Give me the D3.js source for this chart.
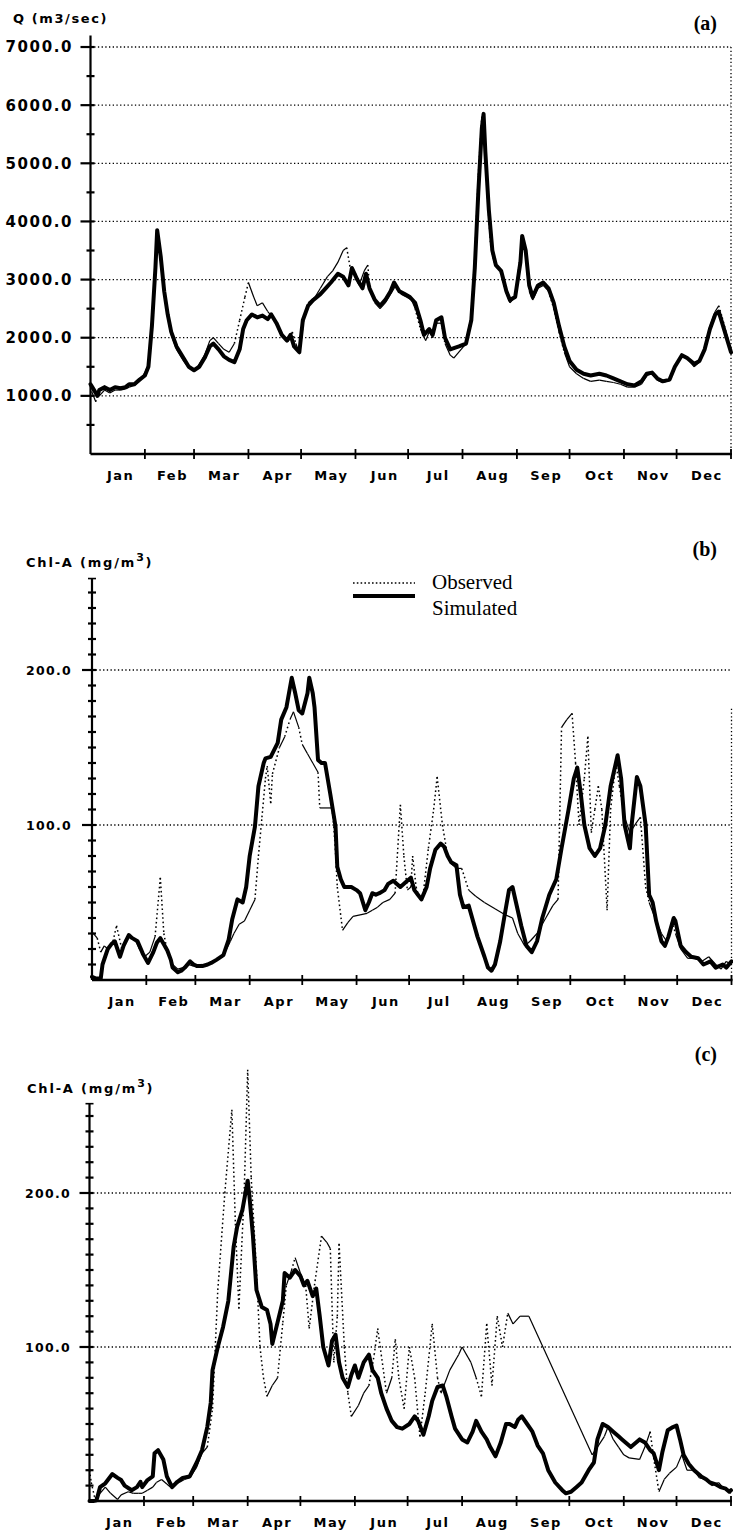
<!DOCTYPE html>
<html>
<head>
<meta charset="utf-8">
<script src="https://cdn.jsdelivr.net/npm/d3@7"></script>
<style>
  body { margin: 0; background: #fff; }
  svg { display: block; }
</style>
</head>
<body>
<svg id="fig" width="733" height="1533"></svg>
<script>
// ---- data -------------------------------------------------------------
const monthNames = ["Jan","Feb","Mar","Apr","May","Jun","Jul","Aug","Sep","Oct","Nov","Dec"];
const monthStartDays = [0,31,59,90,120,151,181,212,243,273,304,334,365];

const flowTicks = [1000,2000,3000,4000,5000,6000,7000];
const flowTickLabels = ["1000.0","2000.0","3000.0","4000.0","5000.0","6000.0","7000.0"];
const flowMinorTicks = [500,1500,2500,3500,4500,5500,6500];
const chlTicks = [100,200];
const chlTickLabels = ["100.0","200.0"];
const chlMinorTicks = [10,20,30,40,50,60,70,80,90,110,120,130,140,150,160,170,180,190,210,220,230,240,250];

// (a) river discharge, m3/sec — [day of year, value]
const flowSimulated = [[0,1200],[1,1150],[4,1000],[5,1100],[8,1150],[11,1100],[14,1150],[17,1130],[20,1150],[22,1200],[25,1200],[28,1280],[31,1350],[33,1500],[35,2200],[37,3200],[38,3850],[40,3400],[42,2800],[44,2400],[46,2100],[49,1850],[53,1650],[56,1500],[59,1440],[62,1500],[65,1650],[68,1850],[70,1900],[73,1800],[76,1680],[79,1620],[82,1580],[85,1800],[87,2150],[89,2300],[92,2400],[95,2350],[98,2380],[101,2320],[103,2400],[106,2250],[109,2050],[112,1950],[114,2050],[116,1850],[119,1750],[121,2300],[124,2550],[127,2650],[131,2750],[134,2850],[137,2950],[141,3100],[144,3050],[147,2900],[149,3200],[152,3000],[155,2850],[157,3100],[159,2850],[162,2650],[165,2550],[168,2650],[171,2800],[173,2950],[176,2800],[179,2750],[182,2700],[185,2600],[188,2300],[190,2050],[193,2150],[195,2050],[197,2300],[200,2350],[202,2000],[205,1800],[210,1850],[214,1900],[217,2300],[219,3200],[221,4500],[223,5600],[224,5850],[225,5200],[227,4200],[229,3500],[231,3250],[234,3150],[237,2800],[239,2650],[242,2700],[245,3300],[246,3750],[248,3500],[250,2900],[252,2700],[255,2900],[258,2950],[261,2850],[264,2600],[267,2200],[270,1850],[273,1600],[277,1450],[281,1380],[285,1350],[290,1380],[294,1350],[298,1300],[302,1250],[306,1200],[310,1180],[314,1250],[317,1380],[320,1400],[323,1300],[326,1250],[330,1280],[333,1500],[337,1700],[340,1650],[344,1550],[347,1600],[350,1800],[353,2150],[356,2400],[358,2450],[360,2250],[363,1950],[365,1750]];
const flowObserved = [[0,1150],[1,1050],[3,900],[4,1050],[5,1000],[8,1100],[11,1050],[14,1100],[17,1100],[20,1120],[22,1150],[25,1180],[28,1250],[31,1400],[33,1550],[35,2300],[37,3300],[38,3800],[40,3300],[42,2750],[44,2350],[46,2050],[49,1800],[53,1600],[56,1480],[60,1450],[62,1550],[65,1700],[68,1950],[70,2000],[73,1900],[76,1800],[79,1750],[82,1900],[85,2300],[88,2700],[90,2950],[93,2700],[95,2550],[98,2600],[101,2450],[104,2350],[107,2200],[110,2000],[113,1950],[115,2100],[117,1900],[119,1750],[122,2400],[124,2600],[128,2700],[131,2850],[135,3050],[138,3150],[141,3300],[144,3500],[146,3550],[148,3200],[151,3100],[153,2900],[156,3150],[158,3250],[159,2900],[162,2600],[165,2500],[168,2600],[171,2750],[174,2900],[177,2750],[180,2700],[183,2650],[185,2500],[188,2150],[191,1950],[193,2100],[195,2000],[197,2250],[200,2250],[202,1900],[205,1700],[207,1650],[214,1900],[217,2400],[219,3400],[221,4800],[223,5800],[224,5700],[226,4500],[228,3600],[230,3300],[233,3200],[236,2850],[239,2600],[242,2700],[244,3200],[246,3700],[248,3400],[250,2800],[252,2650],[255,2850],[258,2900],[261,2800],[264,2500],[267,2100],[270,1750],[273,1500],[277,1380],[281,1300],[285,1250],[290,1270],[294,1250],[298,1230],[302,1200],[306,1150],[310,1150],[314,1200],[317,1350],[320,1380],[323,1270],[326,1230],[330,1260],[333,1480],[337,1680],[340,1650],[344,1500],[347,1580],[350,1800],[353,2200],[356,2450],[358,2550],[360,2350],[363,2000],[365,1800]];

// (b) chlorophyll-a, mg/m3 — [day of year, value]
const chlSimulatedB = [[0,2],[2,1],[5,1],[6,10],[9,20],[11,23],[13,25],[16,15],[18,22],[21,29],[23,27],[26,25],[29,17],[32,11],[35,18],[37,24],[39,27],[41,23],[43,19],[45,13],[46,8],[49,5],[51,6],[53,8],[56,12],[58,10],[60,9],[63,9],[66,10],[68,11],[71,13],[75,16],[78,26],[80,39],[83,52],[86,50],[88,60],[90,80],[93,99],[95,125],[98,140],[99,143],[102,144],[106,153],[108,168],[111,176],[114,195],[116,185],[118,174],[120,172],[123,185],[124,195],[126,185],[127,176],[129,142],[131,140],[133,140],[136,120],[139,99],[140,73],[142,65],[144,60],[148,60],[151,58],[153,56],[156,45],[158,50],[160,56],[162,55],[164,56],[167,58],[169,62],[172,64],[174,62],[176,60],[179,63],[182,66],[184,58],[186,55],[188,52],[191,60],[193,72],[196,84],[199,88],[201,86],[203,80],[205,76],[208,74],[210,55],[212,47],[215,48],[217,40],[220,28],[224,15],[226,8],[228,6],[230,10],[233,25],[236,45],[238,58],[240,60],[242,50],[245,35],[248,22],[251,18],[254,25],[257,40],[261,55],[265,65],[268,85],[272,110],[275,130],[277,137],[279,120],[281,100],[284,85],[287,80],[290,85],[293,100],[296,125],[300,145],[302,130],[304,100],[307,85],[308,100],[311,131],[313,125],[316,100],[318,55],[320,50],[322,38],[325,25],[327,22],[329,28],[332,40],[333,38],[336,22],[339,18],[342,15],[346,14],[349,10],[353,12],[356,8],[360,10],[362,8],[365,12]];
const chlObservedB = [[0,31],[3,27],[5,18],[7,22],[9,20],[12,25],[14,35],[17,20],[19,26],[22,28],[25,25],[27,20],[30,15],[33,18],[36,28],[39,66],[41,30],[43,18],[46,10],[49,7],[52,8],[55,10],[58,9],[62,10],[66,10],[70,12],[73,14],[76,18],[79,25],[81,30],[84,36],[87,38],[90,45],[93,52],[95,80],[97,105],[99,130],[100,138],[102,114],[103,133],[107,150],[110,157],[113,168],[115,173],[118,163],[120,152],[123,146],[126,140],[129,134],[130,111],[137,111],[138,99],[139,82],[140,60],[143,32],[146,37],[149,41],[153,42],[157,43],[160,45],[163,47],[166,50],[170,52],[173,56],[176,113],[178,80],[180,58],[182,60],[183,80],[185,60],[187,52],[189,55],[192,85],[195,110],[197,131],[200,100],[203,80],[205,75],[208,72],[211,72],[215,58],[219,54],[224,50],[230,46],[236,42],[240,40],[243,30],[247,22],[250,25],[254,30],[259,40],[263,48],[266,52],[268,163],[271,168],[274,172],[276,140],[278,100],[281,130],[283,157],[285,95],[287,110],[289,125],[291,110],[294,45],[296,110],[299,140],[301,125],[304,105],[307,95],[311,102],[313,105],[316,60],[318,50],[322,38],[325,30],[328,25],[331,38],[333,30],[336,20],[340,14],[344,14],[348,12],[352,15],[356,10],[359,7],[362,12],[365,10]];

// (c) chlorophyll-a, mg/m3 — [day of year, value]
const chlSimulatedC = [[0,0],[2,0],[4,0.5],[6,9],[9,11.5],[13,17.5],[16,15],[18,13.6],[20,10],[24,7],[27,9],[29,12.5],[30,9],[33,13.6],[36,16],[37,31],[39,33],[42,27],[44,16],[47,9],[50,12.5],[53,15],[57,16],[61,25],[64,33],[67,48],[69,64],[70,85],[73,100],[76,113],[79,130],[82,165],[84,178],[87,189],[90,208],[91,198],[93,172],[95,137],[98,126],[101,124],[103,115],[104,102],[107,116],[110,130],[111,148],[114,145],[117,150],[120,146],[122,140],[124,143],[127,133],[129,138],[131,120],[133,100],[136,88],[138,104],[140,108],[142,90],[144,80],[147,74],[149,82],[151,88],[153,80],[156,90],[159,95],[161,85],[164,80],[166,70],[169,60],[172,52],[175,48],[178,47],[182,50],[185,55],[187,52],[190,43],[193,55],[195,65],[198,74],[201,75],[203,68],[206,55],[208,47],[212,40],[215,38],[218,45],[220,52],[223,45],[226,40],[228,35],[231,29],[234,38],[237,50],[239,50],[242,48],[244,53],[246,55],[249,50],[252,45],[255,36],[258,31],[261,20],[265,12],[269,7],[271,5],[274,6],[277,9],[280,12],[284,20],[287,25],[289,40],[292,50],[295,48],[298,45],[301,42],[303,40],[306,37],[308,35],[311,38],[313,40],[316,38],[319,33],[321,31],[324,20],[326,32],[329,46],[332,48],[334,49],[336,40],[338,30],[341,24],[344,20],[348,16],[351,14],[353,12],[356,11],[359,9],[362,8],[364,6],[365,7]];
const chlObservedC = [[0,20],[1,12],[3,2],[5,3],[6,5],[9,9],[12,5],[16,1],[18,4],[22,6],[25,5],[28,5],[30,5],[33,7],[36,9],[38,12],[41,14],[44,11],[46,9],[49,11],[51,12],[54,14],[57,15],[61,22],[64,31],[67,35],[70,60],[73,137],[77,200],[81,254],[83,180],[85,125],[88,200],[90,280],[92,210],[95,150],[97,100],[99,80],[101,68],[104,75],[107,80],[110,116],[112,140],[115,150],[117,158],[120,148],[123,140],[125,112],[128,140],[132,172],[135,168],[137,164],[139,90],[141,120],[142,167],[145,100],[147,70],[149,55],[153,62],[156,70],[159,75],[162,95],[164,112],[166,95],[169,70],[172,80],[174,105],[176,80],[179,60],[182,100],[185,80],[188,42],[191,70],[195,115],[198,80],[200,70],[205,85],[210,95],[212,100],[217,90],[220,80],[223,68],[226,115],[229,75],[232,120],[235,100],[238,122],[241,115],[245,120],[250,120],[286,30],[289,35],[293,42],[295,48],[298,40],[301,35],[304,30],[307,28],[313,27],[316,35],[319,45],[321,28],[324,6],[327,14],[330,18],[334,22],[337,30],[340,20],[344,20],[347,15],[351,14],[354,10],[358,12],[361,8],[365,5]];

// ---- drawing ----------------------------------------------------------
const svg = d3.select("#fig");
svg.append("rect").attr("width", 733).attr("height", 1533).attr("fill", "#fff");

const BOLD = "'DejaVu Sans', 'Liberation Sans', sans-serif";
const SERIF = "'Liberation Serif', 'DejaVu Serif', serif";

function drawPanel(cfg) {
  const g = svg.append("g");
  const x = d3.scaleLinear().domain([0, 365]).range([cfg.left, cfg.right]);
  const y = d3.scaleLinear().domain([0, cfg.yMax]).range([cfg.bottom, cfg.bottom - cfg.pxPerUnit * cfg.yMax]);

  // dotted horizontal grid at the labelled values
  g.selectAll(".grid").data(cfg.ticks).join("line")
    .attr("x1", cfg.left).attr("x2", cfg.right)
    .attr("y1", d => y(d)).attr("y2", d => y(d))
    .attr("stroke", "#000").attr("stroke-width", 1.3)
    .attr("stroke-dasharray", "1.3,2.4");

  // dotted right frame
  if (cfg.rightFrom !== undefined) {
    g.append("line")
      .attr("x1", cfg.right).attr("x2", cfg.right)
      .attr("y1", y(cfg.rightFrom)).attr("y2", y(0))
      .attr("stroke", "#000").attr("stroke-width", 1.3)
      .attr("stroke-dasharray", "1.3,2.4");
  }

  // observed series: thin line, dotted where it climbs or falls steeply
  const obs = g.append("g");
  for (let i = 1; i < cfg.observed.length; i++) {
    const [d0, v0] = cfg.observed[i - 1], [d1, v1] = cfg.observed[i];
    const X0 = x(d0), Y0 = y(v0), X1 = x(d1), Y1 = y(v1);
    const steep = Math.abs(Y1 - Y0) > 3 * Math.abs(X1 - X0);
    obs.append("line")
      .attr("x1", X0).attr("y1", Y0).attr("x2", X1).attr("y2", Y1)
      .attr("stroke", "#000").attr("stroke-width", steep ? 1.5 : 1.2)
      .attr("stroke-dasharray", steep ? "1.6,2.8" : null);
  }

  // simulated series: heavy solid line
  const line = d3.line().x(d => x(d[0])).y(d => y(d[1])).curve(d3.curveLinear);
  g.append("path").datum(cfg.simulated)
    .attr("d", line).attr("fill", "none")
    .attr("stroke", "#000").attr("stroke-width", 4)
    .attr("stroke-linejoin", "round").attr("stroke-linecap", "round");

  // y axis
  g.append("line")
    .attr("x1", cfg.left).attr("x2", cfg.left)
    .attr("y1", y(0)).attr("y2", y(cfg.axisTop))
    .attr("stroke", "#000").attr("stroke-width", 2.2);
  if (cfg.cap) {
    g.append("line")
      .attr("x1", cfg.left - 4).attr("x2", cfg.left + 4)
      .attr("y1", y(cfg.axisTop)).attr("y2", y(cfg.axisTop))
      .attr("stroke", "#000").attr("stroke-width", 1.6);
  }
  g.selectAll(".minor").data(cfg.minor).join("line")
    .attr("x1", cfg.left - 4).attr("x2", cfg.left + 4)
    .attr("y1", d => y(d)).attr("y2", d => y(d))
    .attr("stroke", "#000").attr("stroke-width", 2.2);
  g.selectAll(".major").data(cfg.ticks).join("line")
    .attr("x1", cfg.left - 10).attr("x2", cfg.left + 4)
    .attr("y1", d => y(d)).attr("y2", d => y(d))
    .attr("stroke", "#000").attr("stroke-width", 2.2);
  g.selectAll(".tlab").data(cfg.ticks).join("text")
    .attr("x", cfg.labelRight).attr("y", d => y(d) + cfg.labelSize * 0.36)
    .attr("text-anchor", "end")
    .attr("font-family", BOLD).attr("font-weight", "bold")
    .attr("font-size", cfg.labelSize).attr("letter-spacing", cfg.labelSpacing)
    .text((d, i) => cfg.tickLabels[i]);

  // x axis with month boundaries
  g.append("line")
    .attr("x1", cfg.left).attr("x2", cfg.right + 1)
    .attr("y1", y(0)).attr("y2", y(0))
    .attr("stroke", "#000").attr("stroke-width", 2.6);
  g.selectAll(".mt").data(monthStartDays.slice(1)).join("line")
    .attr("x1", d => x(d)).attr("x2", d => x(d))
    .attr("y1", y(0) - 5).attr("y2", y(0) + 5)
    .attr("stroke", "#000").attr("stroke-width", 1.8);
  g.selectAll(".ml").data(monthNames).join("text")
    .attr("x", (d, i) => x((monthStartDays[i] + monthStartDays[i + 1]) / 2) + 3)
    .attr("y", y(0) + 26)
    .attr("text-anchor", "middle")
    .attr("font-family", BOLD).attr("font-weight", "bold")
    .attr("font-size", 13).attr("letter-spacing", 1.5)
    .text(d => d);

  // axis title
  const t = g.append("text")
    .attr("x", cfg.titleX).attr("y", cfg.titleY)
    .attr("font-family", BOLD).attr("font-weight", "bold")
    .attr("font-size", 13).attr("letter-spacing", cfg.titleSpacing);
  cfg.title(t);

  // panel letter
  g.append("text")
    .attr("x", 717).attr("y", cfg.letterY)
    .attr("text-anchor", "end")
    .attr("font-family", SERIF).attr("font-weight", "bold")
    .attr("font-size", 20)
    .text(cfg.letter);

  return { x, y, g };
}

function chlTitle(t) {
  t.append("tspan").text("Chl-A (mg/m");
  t.append("tspan").attr("dy", -6).attr("font-size", 11).text("3");
  t.append("tspan").attr("dy", 6).text(")");
}

drawPanel({
  left: 90.5, right: 731, bottom: 454, pxPerUnit: 0.05814, yMax: 7200, axisTop: 7200,
  ticks: flowTicks, tickLabels: flowTickLabels, minor: flowMinorTicks,
  labelRight: 73, labelSize: 15, labelSpacing: 1.6,
  observed: flowObserved, simulated: flowSimulated,
  rightFrom: 7000, cap: false,
  titleX: 13, titleY: 23, titleSpacing: 1.6,
  title: t => t.text("Q (m3/sec)"),
  letter: "(a)", letterY: 30
});

drawPanel({
  left: 92, right: 731.5, bottom: 980, pxPerUnit: 1.55, yMax: 260, axisTop: 259,
  ticks: chlTicks, tickLabels: chlTickLabels, minor: chlMinorTicks,
  labelRight: 72, labelSize: 12.5, labelSpacing: 1.3,
  observed: chlObservedB, simulated: chlSimulatedB,
  rightFrom: 175, cap: true,
  titleX: 26, titleY: 567, titleSpacing: 1.8,
  title: chlTitle,
  letter: "(b)", letterY: 556
});

drawPanel({
  left: 89.5, right: 731, bottom: 1501, pxPerUnit: 1.54, yMax: 260, axisTop: 258,
  ticks: chlTicks, tickLabels: chlTickLabels, minor: chlMinorTicks,
  labelRight: 71, labelSize: 12.5, labelSpacing: 1.3,
  observed: chlObservedC, simulated: chlSimulatedC,
  cap: true,
  titleX: 27, titleY: 1093, titleSpacing: 1.8,
  title: chlTitle,
  letter: "(c)", letterY: 1061
});

// legend (panel b)
const legend = svg.append("g");
legend.append("line")
  .attr("x1", 353).attr("x2", 415).attr("y1", 583).attr("y2", 583)
  .attr("stroke", "#000").attr("stroke-width", 1.3).attr("stroke-dasharray", "1.6,2.2");
legend.append("line")
  .attr("x1", 353).attr("x2", 415).attr("y1", 596).attr("y2", 596)
  .attr("stroke", "#000").attr("stroke-width", 4);
legend.append("text").attr("x", 432).attr("y", 589)
  .attr("font-family", SERIF).attr("font-size", 21).text("Observed");
legend.append("text").attr("x", 432).attr("y", 615)
  .attr("font-family", SERIF).attr("font-size", 21).text("Simulated");
</script>
</body>
</html>
